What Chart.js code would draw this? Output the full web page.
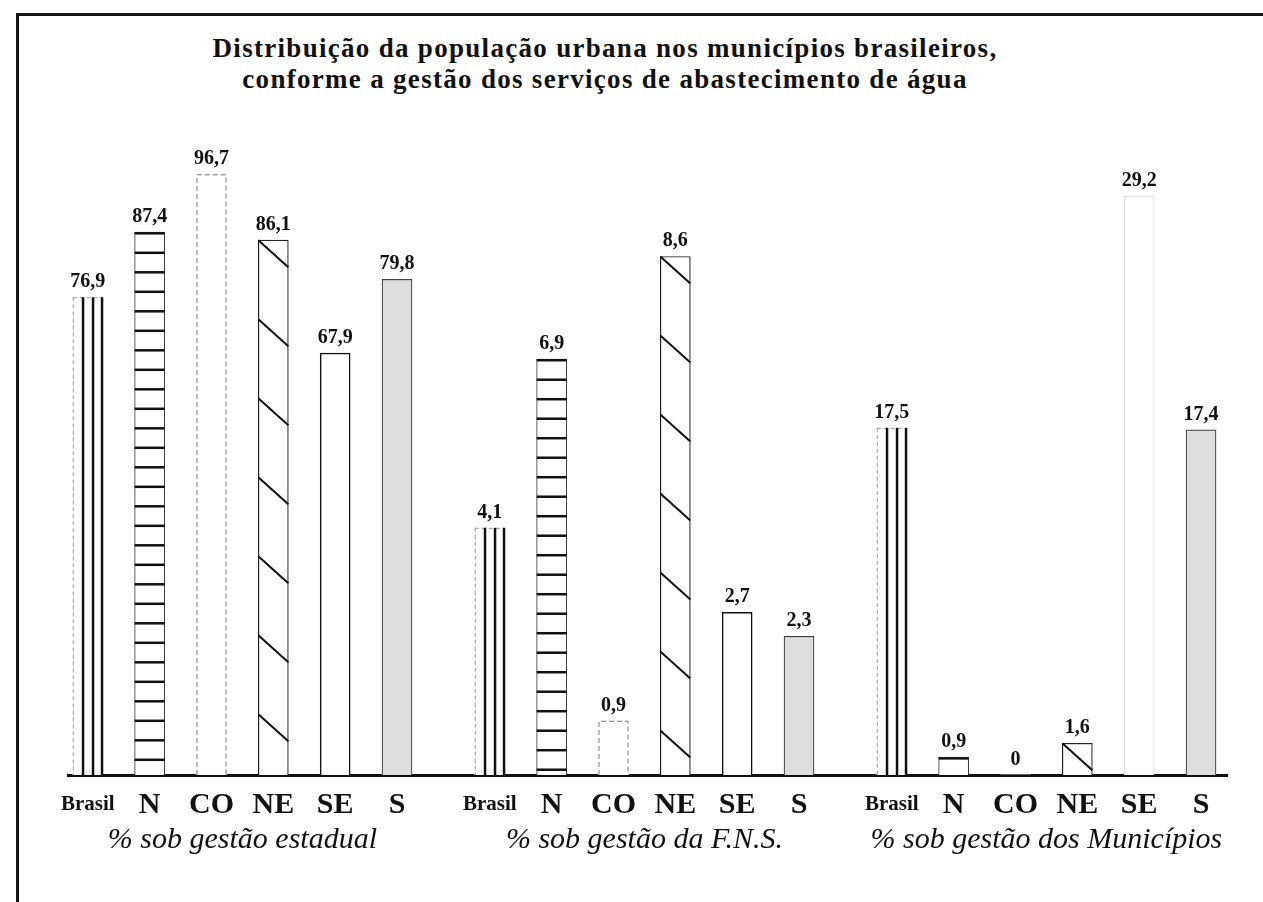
<!DOCTYPE html>
<html>
<head>
<meta charset="utf-8">
<script src="https://cdn.jsdelivr.net/npm/chart.js@4/dist/chart.umd.min.js"></script>
<style>
  html, body { margin: 0; background: #fff; }
  #wrap { position: relative; width: 1263px; height: 902px; }
  #frame { position: absolute; left: 16px; top: 13px; right: 0; bottom: 0;
           border-top: 3px solid #161616; border-left: 3px solid #161616; }
  #title { position: absolute; left: 0; width: 1210px; top: 33px; text-align: center;
           font: bold 27px 'Liberation Serif', serif; line-height: 31px; letter-spacing: 1.3px; color: #111; }
  canvas { position: absolute; left: 0; top: 0; }
</style>
</head>
<body>
<div id="wrap">
  <div id="frame"></div>
  <div id="title">Distribuição da população urbana nos municípios brasileiros,<br>conforme a gestão dos serviços de abastecimento de água</div>
  <canvas id="chart"></canvas>
</div>
<script>
const regions = ['Brasil', 'N', 'CO', 'NE', 'SE', 'S'];
const groupNames = ['% sob gestão estadual', '% sob gestão da F.N.S.', '% sob gestão dos Municípios'];

const estadual   = [76.9, 87.4, 96.7, 86.1, 67.9, 79.8];
const fns        = [4.1, 6.9, 0.9, 8.6, 2.7, 2.3];
const municipios = [17.5, 0.9, 0, 1.6, 29.2, 17.4];

const series = [estadual, fns, municipios];
// every group is drawn on its own scale, like in the original figure
const axisMax = [99, 10.2, 31];

const GROUP_STEP = 6.5;   // slot distance between the first bars of two groups
const slot = (g, i) => g * GROUP_STEP + i;

// one bottom axis: region names under the bars, group name one line lower under each group
const axisTicks = [];
series.forEach((vals, g) => {
  regions.forEach((r, i) => axisTicks.push({ value: slot(g, i), label: r, group: false }));
  axisTicks.push({ value: slot(g, (regions.length - 1) / 2), label: ['', groupNames[g]], group: true });
});
axisTicks.sort((a, b) => a.value - b.value);

const SERIF = "'Liberation Serif', serif";
const tickFont = t => t.group ? { family: SERIF, size: 30, style: 'italic', lineHeight: '38px' }
  : t.label === 'Brasil' ? { family: SERIF, size: 21, weight: 'bold', lineHeight: '44px' }
  : { family: SERIF, size: 30, weight: 'bold', lineHeight: '44px' };

const fillColors = ['#ffffff', '#ffffff', '#ffffff', '#ffffff', '#ffffff', '#dedede'];
const edgeColors = ['rgba(0,0,0,0)', '#333', 'rgba(0,0,0,0)', '#222', '#111', '#444'];
const edgeWidths = [0, 1, 0, 1.2, 1.5, 1.2];

const fmt = v => v === 0 ? '0' : v.toFixed(1).replace('.', ',');

// hatching drawn inside each bar from its own geometry
const hatchPlugin = {
  id: 'hatch',
  afterDatasetsDraw(chart) {
    const c = chart.ctx;
    c.save();
    chart.data.datasets.forEach((ds, d) => {
      chart.getDatasetMeta(d).data.forEach((el, i) => {
        const { x, y, base, width } = el.getProps(['x', 'y', 'base', 'width'], true);
        const left = x - width / 2, right = x + width / 2;
        if (base - y < 1) return;
        c.setLineDash([]);
        if (i === 0) {
          c.strokeStyle = '#999'; c.lineWidth = 1;
          c.setLineDash([4, 3]);
          c.beginPath(); c.moveTo(left + 0.5, y); c.lineTo(left + 0.5, base);
          c.moveTo(left, y + 0.5); c.lineTo(right, y + 0.5); c.stroke();
          c.setLineDash([]);
          c.fillStyle = '#111';
          [9, 19, 28].forEach(o => c.fillRect(left + o, y, 2.5, base - y));
        } else if (i === 1) {
          c.fillStyle = '#111';
          for (let yy = y; yy < base - 4; yy += 19.5) c.fillRect(left, yy, width, 2.5);
        } else if (i === 2) {
          c.strokeStyle = '#777'; c.lineWidth = 1;
          c.setLineDash([5, 3]);
          c.beginPath();
          c.moveTo(left + 0.5, base); c.lineTo(left + 0.5, y + 0.5);
          c.lineTo(right - 0.5, y + 0.5); c.lineTo(right - 0.5, base);
          c.stroke();
          c.setLineDash([]);
        } else if (i === 3) {
          c.strokeStyle = '#111'; c.lineWidth = 2;
          c.beginPath();
          for (let yy = y; yy + 27 <= base; yy += 79) { c.moveTo(left, yy); c.lineTo(right, yy + 27); }
          c.stroke();
        }
      });
    });
    c.restore();
  }
};

const valueLabels = {
  id: 'valueLabels',
  afterDatasetsDraw(chart) {
    const c = chart.ctx;
    c.save();
    c.font = "bold 20px 'Liberation Serif', serif";
    c.fillStyle = '#111';
    c.textAlign = 'center';
    c.textBaseline = 'alphabetic';
    chart.data.datasets.forEach((ds, d) => {
      chart.getDatasetMeta(d).data.forEach((el, i) => {
        c.fillText(fmt(series[d][i]), el.x, el.y - 10);
      });
    });
    c.restore();
  }
};

const scales = {
  x: {
    type: 'linear', min: -0.32, max: 18.42, offset: false,
    grid: { display: false, drawTicks: false },
    border: { color: '#111', width: 3 },
    afterBuildTicks: s => { s.ticks = axisTicks.map(t => ({ value: t.value })); },
    ticks: {
      autoSkip: false, maxRotation: 0, padding: 8, color: '#111',
      callback: (v, i) => axisTicks[i].label,
      font: ctx => tickFont(axisTicks[ctx.index] || axisTicks[1])
    }
  }
};
axisMax.forEach((m, g) => {
  scales['y' + g] = { display: false, min: 0, max: m };
});

new Chart(document.getElementById('chart'), {
  type: 'bar',
  data: {
    datasets: series.map((vals, g) => ({
      label: groupNames[g],
      data: vals.map((v, i) => ({ x: slot(g, i), y: v })),
      yAxisID: 'y' + g,
      grouped: false,
      barThickness: 30,
      backgroundColor: ctx => fillColors[ctx.dataIndex],
      borderColor: ctx => (g === 2 && ctx.dataIndex === 4) ? '#d6d6d6' : edgeColors[ctx.dataIndex],
      borderWidth: ctx => (g === 2 && ctx.dataIndex === 4) ? 1 : edgeWidths[ctx.dataIndex]
    }))
  },
  options: {
    responsive: true,
    maintainAspectRatio: false,
    animation: false,
    layout: { padding: { left: 68, right: 36, top: 160, bottom: 35 } },
    plugins: { legend: { display: false }, title: { display: false }, tooltip: { enabled: false } },
    scales
  },
  plugins: [hatchPlugin, valueLabels]
});
</script>
</body>
</html>
